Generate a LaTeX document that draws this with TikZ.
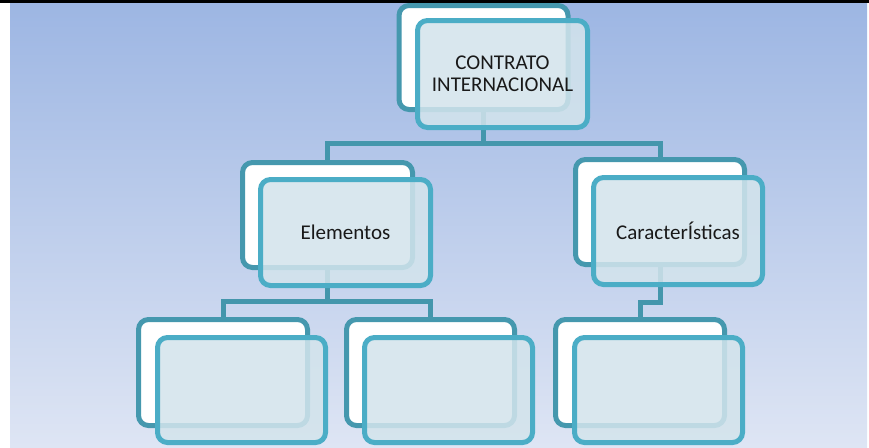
\documentclass[tikz,border=0pt]{standalone}
\usepackage{fontspec}
\setmainfont{Carlito}
\definecolor{bgtop}{HTML}{9DB6E3}
\definecolor{bgbot}{HTML}{DEE5F4}
\definecolor{backedge}{HTML}{4598AE}
\definecolor{frontedge}{HTML}{4BADC6}
\definecolor{frontfill}{HTML}{D3E4EC}
\definecolor{linkcol}{HTML}{4496AC}
\pgfdeclarelayer{bglayer}
\pgfdeclarelayer{linklayer}
\pgfsetlayers{bglayer,linklayer,main}
\tikzset{
  backbox/.style={draw=backedge, line width=5pt, fill=white, rounded corners=10pt,
    inner sep=0pt},
  frontbox/.style={draw=frontedge, line width=5pt, fill=frontfill, fill opacity=0.86,
    text opacity=1, rounded corners=10pt, inner sep=0pt, align=center,
    font=\fontsize{21}{22}\selectfont, text=black!90},
  link/.style={draw=linkcol, line width=5pt}
}
\begin{document}
\begin{tikzpicture}[x=1pt,y=-1pt]
\useasboundingbox (0,0) rectangle (869,447);
\begin{pgfonlayer}{bglayer}
\shade[top color=bgtop, bottom color=bgbot] (10,3) rectangle (867,447);
\fill[black] (0,0) rectangle (869,2.7);
\end{pgfonlayer}
% back boxes
\node[backbox, minimum width=169pt, minimum height=104pt] (rootb) at (483.5,57.5) {};
\node[backbox, minimum width=170pt, minimum height=105pt] (elemb) at (327.5,215) {};
\node[backbox, minimum width=169pt, minimum height=105pt] (carb) at (660,212) {};
\node[backbox, minimum width=169pt, minimum height=106pt] (blb) at (223,372.5) {};
\node[backbox, minimum width=168pt, minimum height=106pt] (bmb) at (430.5,372.5) {};
\node[backbox, minimum width=169pt, minimum height=106pt] (brb) at (640,372.5) {};
% connectors (behind the boxes)
\begin{pgfonlayer}{linklayer}
\draw[link] (rootb.south) -- (rootb.south |- 0,143) -| (elemb.north);
\draw[link] (rootb.south |- 0,143) -| (carb.north);
\draw[link] (elemb.south) -- (elemb.south |- 0,301) -| (blb.north);
\draw[link] (elemb.south |- 0,301) -| (bmb.north);
\draw[link] (carb.south) -- (carb.south |- 0,302) -| (brb.north);
\end{pgfonlayer}
% front boxes
\node[frontbox, minimum width=170pt, minimum height=107pt] (rootf) at (502.5,74) {CONTRATO\\INTERNACIONAL};
\node[frontbox, minimum width=170pt, minimum height=106pt] (elemf) at (345.5,232.5) {Elementos};
\node[frontbox, minimum width=169pt, minimum height=107pt] (carf) at (678,231) {CaracterÍsticas};
\node[frontbox, minimum width=168pt, minimum height=105pt] (blf) at (241.5,390) {};
\node[frontbox, minimum width=168pt, minimum height=105pt] (bmf) at (448.5,390) {};
\node[frontbox, minimum width=168pt, minimum height=105pt] (brf) at (658.5,390) {};
\end{tikzpicture}
\end{document}
